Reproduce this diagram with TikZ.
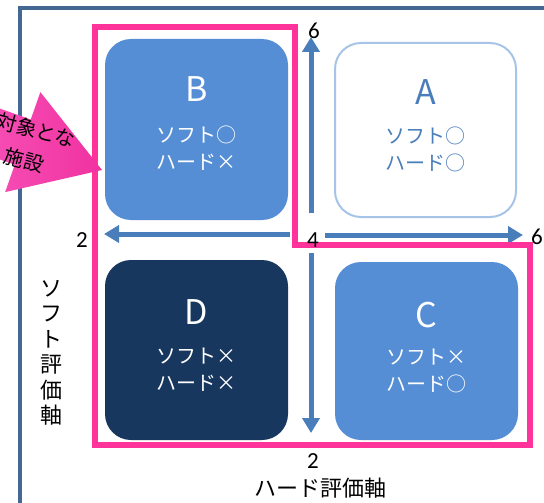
\documentclass[tikz,border=0pt]{standalone}
\usepackage{fontspec}
\setmainfont{Noto Sans CJK JP}
\newfontfamily\numf{Carlito}
\usetikzlibrary{arrows.meta}
\definecolor{frameC}{RGB}{68,104,148}
\definecolor{boxB}{RGB}{85,142,213}
\definecolor{boxD}{RGB}{24,55,94}
\definecolor{boxAline}{RGB}{166,196,232}
\definecolor{txtA}{RGB}{74,126,187}
\definecolor{arrC}{RGB}{74,126,187}
\definecolor{pinkD}{RGB}{255,51,153}
\definecolor{pinkL}{RGB}{255,112,208}
\definecolor{pinkM}{RGB}{240,50,160}
\tikzset{
  quad/.style={rounded corners=26pt, minimum width=183pt, minimum height=180pt, inner sep=0pt},
  bigl/.style={font=\fontsize{34}{36}\selectfont},
  subl/.style={align=center, font=\fontsize{20}{27}\selectfont},
  axarr/.style={draw=arrC, line width=5pt, -{Triangle[width=17pt,length=15pt]}},
  numl/.style={font=\numf\fontsize{23}{24}\selectfont, inner sep=0pt},
  pinktxt/.style={rotate=-15, font=\fontsize{20}{24}\selectfont, inner sep=0pt},
}
\begin{document}
\begin{tikzpicture}[x=1pt,y=-1pt]
\useasboundingbox (0,0) rectangle (544,503);
\fill[white] (0,0) rectangle (544,503);
% outer frame
\coordinate (f0) at (20,520);
\coordinate (f1) at (20,8);
\coordinate (f2) at (560,8);
\draw[frameC, line width=3.5pt] (f0) -- (f1) -- (f2);
% boxes
\node[quad, fill=boxB, minimum height=181pt] (B) at (196.5,129.5) {};
\node[quad, draw=boxAline, line width=2pt, fill=white, minimum width=181pt, minimum height=174pt] (A) at (425.5,130) {};
\node[quad, fill=boxD] (D) at (196.5,350) {};
\node[quad, fill=boxB, minimum height=178pt] (C) at (426.5,351) {};
% box texts
\node[bigl, white] (Bl) at ([yshift=40pt]B.center) {B};
\node[subl, white] (Bt) at ([yshift=-19pt]B.center) {ソフト○\\ハード×};
\node[bigl, txtA] (Al) at ([yshift=38pt]A.center) {A};
\node[subl, txtA] (At) at ([yshift=-19pt]A.center) {ソフト○\\ハード○};
\node[bigl, white] (Dl) at ([yshift=38pt]D.center) {D};
\node[subl, white] (Dt) at ([yshift=-20pt]D.center) {ソフト×\\ハード×};
\node[bigl, white] (Cl) at ([yshift=36pt]C.center) {C};
\node[subl, white] (Ct) at ([yshift=-20pt]C.center) {ソフト×\\ハード○};
% axis arrows
\coordinate (u0) at (311,213); \coordinate (u1) at (311,37);
\coordinate (l0) at (290,234); \coordinate (l1) at (104,234);
\coordinate (r0) at (325,235); \coordinate (r1) at (523,235);
\coordinate (d0) at (311,253); \coordinate (d1) at (311,433);
\draw[axarr] (u0) -- (u1);
\draw[axarr] (l0) -- (l1);
\draw[axarr] (r0) -- (r1);
\draw[axarr] (d0) -- (d1);
% pink outline
\coordinate (p0) at (95,27); \coordinate (p1) at (295,27); \coordinate (p2) at (295,245);
\coordinate (p3) at (530,245); \coordinate (p4) at (530,445); \coordinate (p5) at (95,445);
\draw[pinkD, line width=6.5pt, line join=miter] (p0) -- (p1) -- (p2) -- (p3) -- (p4) -- (p5) -- cycle;
% numbers
\node[numl] (n6u) at (314,31) {6};
\node[numl] (n2l) at (82,240) {2};
\node[numl] (n4) at (313,240) {4};
\node[numl] (n6r) at (537,237) {6};
\node[numl] (n2d) at (313,461) {2};
% axis labels
\node[font=\fontsize{22}{24}\selectfont, inner sep=0pt] (hax) at (320,488) {ハード評価軸};
\node[align=center, font=\fontsize{22}{25.5}\selectfont, inner sep=0pt] (vax) at (51,353) {ソ\\フ\\ト\\評\\価\\軸};
% pink big arrow
\begin{scope}[shift={(102,170)}, rotate=-19.4]
  \shade[left color=pinkL, right color=pinkM] (0,0) -- (-84,-53) -- (-84,-24) -- (-260,-24) -- (-260,24) -- (-84,24) -- (-84,53) -- cycle;
\end{scope}
\node[pinktxt] (tgt1) at (36,130) {対象とな};
\node[pinktxt] (tgt2) at (24,160) {施設};
\end{tikzpicture}
\end{document}
